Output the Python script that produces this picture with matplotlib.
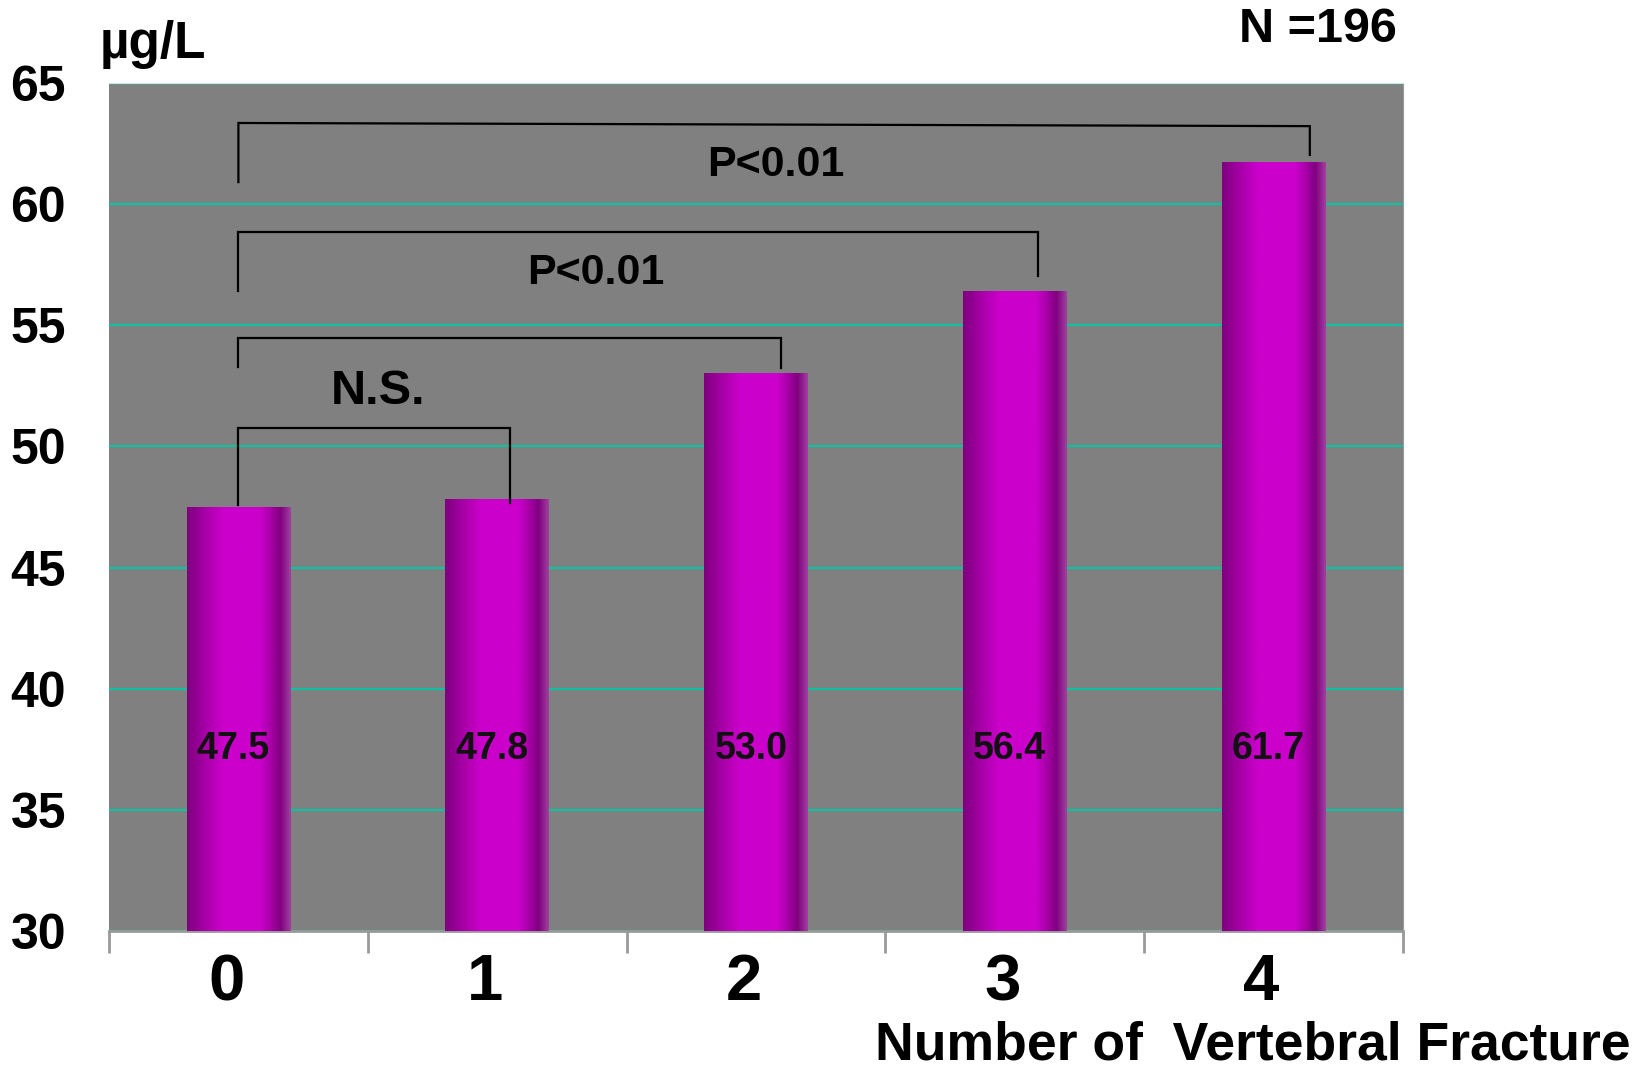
import numpy as np
import matplotlib.pyplot as plt
from matplotlib.colors import LinearSegmentedColormap
import matplotlib.transforms as mtransforms

plt.rcParams['font.family'] = ['Liberation Sans', 'DejaVu Sans']
plt.rcParams['font.weight'] = 'bold'

# data
categories = ['0', '1', '2', '3', '4']
values = [47.5, 47.8, 53.0, 56.4, 61.7]
value_labels = ['47.5', '47.8', '53.0', '56.4', '61.7']
yticks = [30, 35, 40, 45, 50, 55, 60, 65]

# significance brackets: x_left, x_right, top_left, top_right, foot_left, foot_right
brackets = [
    (0.0, 1.05, 50.76, 50.76, 47.6, 47.65),
    (0.0, 2.095, 54.47, 54.47, 53.28, 53.24),
    (0.0, 3.09, 58.85, 58.85, 56.41, 57.03),
    (0.0, 4.14, 63.35, 63.22, 60.91, 62.03),
]
sig_texts = ['N.S.', 'P<0.01', 'P<0.01']
sig_x = [0.54, 1.38, 2.075]
sig_y = [52.25, 57.16, 61.62]
sig_size = [35, 31, 31]

fig = plt.figure(figsize=(16.49, 10.70), dpi=100)
ax = fig.add_axes([109/1649, 1 - 931/1070, (1403-109)/1649, (931-83)/1070])
ax.set_facecolor('#808080')

x = np.arange(len(categories))
w = 0.4

bar_cmap = LinearSegmentedColormap.from_list('bar', [
    (0.0, '#7e007e'), (0.12, '#9a009a'), (0.35, '#cc00cc'), (0.7, '#cc00cc'),
    (0.8, '#aa00aa'), (0.9, '#800080'), (1.0, '#a040a0')])
grad = np.linspace(0, 1, 256).reshape(1, -1)

for xi, v in zip(x, values):
    ax.imshow(grad, cmap=bar_cmap, aspect='auto', zorder=3,
              extent=[xi - w/2, xi + w/2, 30, v], interpolation='bicubic')

for xi, lab in zip(x, value_labels):
    ax.text(xi - 0.02, 37.5, lab, ha='center', va='center', fontsize=27,
            fontweight='bold', color='#111111', zorder=5)

for xl, xr, tl, tr, fl, fr in brackets:
    ax.plot([xl, xl, xr, xr], [fl, tl, tr, fr], color='black', lw=1.6,
            zorder=4, solid_joinstyle='miter')

for t, sx, sy, fs in zip(sig_texts, sig_x, sig_y, sig_size):
    ax.text(sx, sy, t, ha='center', va='center', fontsize=fs,
            fontweight='bold', color='black', zorder=5)

ax.set_xlim(-0.5, 4.5)
ax.set_ylim(30, 65)
ax.set_yticks(yticks)
ax.grid(axis='y', color='#10c0a0', lw=1.6, zorder=1)
ax.set_axisbelow(True)
ax.tick_params(axis='y', length=0, pad=31, labelsize=36)

ax.set_xticks(x)
ax.set_xticklabels(categories, fontsize=47)
ax.set_xticks(np.arange(-0.5, 5, 1), minor=True)
ax.tick_params(axis='x', which='major', length=0, pad=16)
ax.tick_params(axis='x', which='minor', length=16, width=2, color='#999999')
shift = mtransforms.ScaledTranslation(-0.12, 0, fig.dpi_scale_trans)
for lbl in ax.get_xticklabels():
    lbl.set_transform(lbl.get_transform() + shift)

ax.spines['left'].set_visible(False)
ax.spines['top'].set_color('#c2e9e0')
ax.spines['right'].set_color('#999999')
ax.spines['bottom'].set_color('#999999')
ax.spines['bottom'].set_linewidth(2)

fig.text(100/1649, 1 - 58/1070, 'µg/L', fontsize=37, fontweight='bold',
         ha='left', va='baseline')
fig.text(1318/1649, 1 - 30/1070, 'N =196', fontsize=35, fontweight='bold',
         ha='center', va='center')
fig.text(1253/1649, 1 - 1045/1070, 'Number of  Vertebral Fracture', fontsize=38.5,
         fontweight='bold', ha='center', va='center',
         family=['Liberation Sans Narrow', 'Liberation Sans'])

fig.savefig('out.png', dpi=100)
